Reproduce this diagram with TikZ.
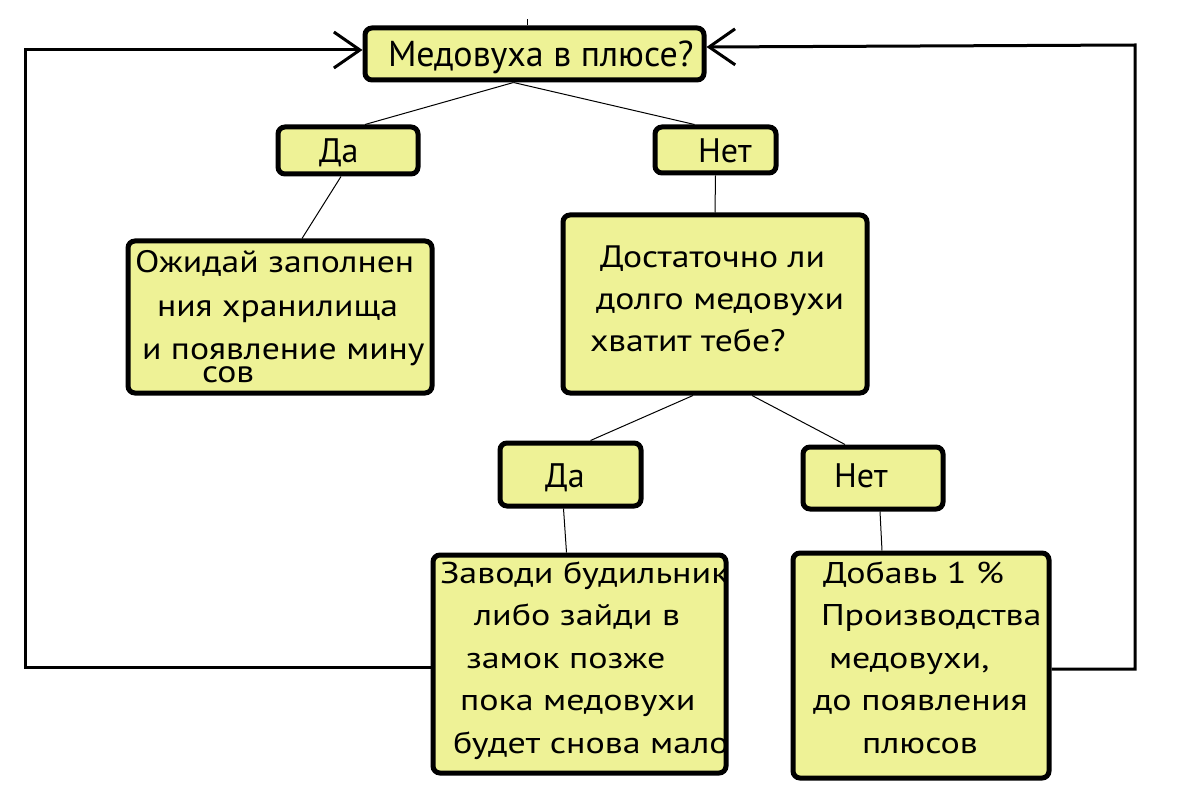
\documentclass[tikz,border=0pt]{standalone}
\usepackage{fontspec}
\setmainfont{PT Sans}
\newfontfamily\midfont[FakeStretch=1.15]{PT Sans}
\newfontfamily\lowfont[FakeStretch=1.2]{PT Sans}
\usepackage{tikz}
\usetikzlibrary{arrows.meta}
\definecolor{boxfill}{RGB}{238,242,150}
% box text: width, height, font size, line skip, first baseline, lines
\newcommand\boxtxt[6]{\parbox[c][#2pt][t]{#1pt}{\fontsize{#3pt}{#4pt}\selectfont\raggedright\vspace*{\dimexpr #5pt-0.7\baselineskip\relax}\strut #6}}

\begin{document}
\begin{tikzpicture}[x=1pt, y=-1pt,
	box/.style={draw, line width=5pt, rounded corners=7pt, fill=boxfill, inner sep=0pt},
	link/.style={line width=1pt},
	back/.style={line width=3pt, -{Straight Barb[length=26pt, width=36pt]}}]
	\useasboundingbox (0,0) rectangle (1197,794);
	\node[box] (q1) at (534.5,54) {\boxtxt{339}{52}{36}{42}{39}{\hspace*{23pt}\mbox{Медовуха в плюсе?}}};
	\node[box] (yes1) at (348,150.5) {\boxtxt{140}{47}{34}{40}{36}{\hspace*{41pt}Да}};
	\node[box] (no1) at (715.5,150) {\boxtxt{121}{46}{34}{40}{36}{\hspace*{43pt}Нет}};
	\node[box] (wait) at (280,317) {\boxtxt{304}{152}{31}{43.5}{32}{\midfont\hspace*{7pt}\mbox{Ожидай заполнен}\\ \hspace*{29pt}\mbox{ния хранилища}\\ \hspace*{14pt}\mbox{и появление мину}\\[-20.5pt] \hspace*{74pt}сов}};
	\node[box] (q2) at (715,304) {\boxtxt{304}{178}{31}{42}{53}{\midfont\hspace*{37pt}\mbox{Достаточно ли}\\ \hspace*{33pt}\mbox{долго медовухи}\\ \hspace*{27pt}\mbox{хватит тебе?}}};
	\node[box] (yes2) at (570.5,474.5) {\boxtxt{141}{63}{34}{40}{44}{\hspace*{45pt}Да}};
	\node[box] (no2) at (873,478) {\boxtxt{140}{62}{34}{40}{40}{\hspace*{31pt}Нет}};
	\node[box] (alarm) at (579.5,664) {\boxtxt{293}{218}{30}{42.5}{28}{\lowfont\hspace*{7pt}\mbox{Заводи будильник}\\ \hspace*{41pt}\mbox{либо зайди в}\\ \hspace*{33pt}\mbox{замок позже}\\ \hspace*{27pt}\mbox{пока медовухи}\\ \hspace*{20pt}\mbox{будет снова мало}}};
	\node[box] (add) at (921,665.5) {\boxtxt{256}{225}{30}{42.5}{30}{\lowfont\hspace*{30pt}\mbox{Добавь 1 \%}\\ \hspace*{28pt}\mbox{Производства}\\ \hspace*{36pt}\mbox{медовухи,}\\ \hspace*{20pt}\mbox{до появления}\\ \hspace*{69pt}плюсов}};
	% tree
	\draw[link] ([xshift=-21pt]q1.south) -- ([xshift=17pt]yes1.north);
	\draw[link] ([xshift=-21pt]q1.south) -- ([xshift=-21pt]no1.north);
	\draw[link] ([xshift=-7pt]yes1.south) -- ([xshift=22pt]wait.north);
	\draw[link] (no1.south) -- (q2.north);
	\draw[link] ([xshift=-22pt]q2.south) -- ([xshift=20pt]yes2.north);
	\draw[link] ([xshift=37pt]q2.south) -- ([xshift=-28pt]no2.north);
	\draw[link] ([xshift=-7pt]yes2.south) -- ([xshift=-13pt]alarm.north);
	\draw[link] ([xshift=7pt]no2.south) -- ([xshift=-39pt]add.north);
	\draw[link] ([xshift=-7pt]q1.north) -- ++(0,-6);
	% back to the question
	\coordinate (lbot) at (25,667);
	\coordinate (ltop) at (25,50);
	\coordinate (rbot) at (1135,669);
	\coordinate (rtop) at (1135,45);
	\draw[back] ([yshift=-3pt]alarm.west) -- (lbot) -- (ltop) -- ([yshift=4pt]q1.west);
	\draw[back] ([yshift=-3.5pt]add.east) -- (rbot) -- (rtop) -- ([yshift=7pt]q1.east);
\end{tikzpicture}
\end{document}
